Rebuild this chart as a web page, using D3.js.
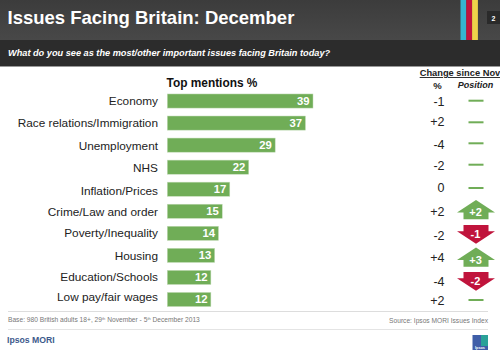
<!DOCTYPE html>
<html><head><meta charset="utf-8">
<script src="https://cdn.jsdelivr.net/npm/d3@7"></script>
<style>html,body{margin:0;padding:0;background:#fff}svg{display:block}text{font-family:"Liberation Sans",Arial,sans-serif}</style>
</head><body><svg id="c" width="500" height="351"></svg>
<script>
const categories=["Economy","Race relations/Immigration","Unemployment","NHS","Inflation/Prices","Crime/Law and order","Poverty/Inequality","Housing","Education/Schools","Low pay/fair wages"];
const values=[39,37,29,22,17,15,14,13,12,12];
const changes=["-1","+2","-4","-2","0","+2","-2","+4","-4","+2"];
const positions=[0,0,0,0,0,2,-1,3,-2,0];
const stripes=["#35b4d0","#c0143c","#efd24a"];

const svg=d3.select("#c");
const x=d3.scaleLinear().domain([0,39]).range([165.5,313]);
const barStart=167.3;
const y=d3.scaleBand().domain(categories).range([90,310.5]).paddingInner(0.36).paddingOuter(0.18);
const cy=c=>y(c)+y.bandwidth()/2;
// the source slide's columns are hand-placed and drift from the bar rows
const labelY=d3.scaleOrdinal(categories,[105,127,149.5,172,194.5,216,236.7,260,281,300.7]);
const changeY=d3.scaleOrdinal(categories,[106,126.2,148.5,170.2,191.5,216.2,239.5,261.5,285.5,305]);
const markY=d3.scaleOrdinal(categories,[100.7,122.3,143.3,164.7,188,211,234.5,258.5,281.5,300]);
const GREEN="#70ad57",RED="#c0143c";

const grad=svg.append("defs").append("linearGradient").attr("id","hd").attr("x1",0).attr("x2",0).attr("y1",0).attr("y2",1);
grad.append("stop").attr("offset",0).attr("stop-color","#3c3c3c");
grad.append("stop").attr("offset",1).attr("stop-color","#484848");

svg.append("rect").attr("width",500).attr("height",40).attr("fill","url(#hd)");
svg.append("rect").attr("y",40).attr("width",500).attr("height",26).attr("fill","#2c2c2c");
svg.append("rect").attr("y",66).attr("width",500).attr("height",1).attr("fill","#999");
svg.selectAll("rect.st").data(stripes).join("rect").attr("class","st")
  .attr("x",(d,i)=>460.5+i*5.8).attr("y",0).attr("width",5.8).attr("height",40).attr("fill",d=>d);
svg.append("rect").attr("x",487).attr("y",11).attr("width",13).attr("height",13).attr("fill","#2a2a2a");
svg.append("text").attr("x",493.5).attr("y",20.5).attr("text-anchor","middle").attr("font-size",7).attr("font-weight","bold").attr("fill","#fff").text("2");
svg.append("text").attr("x",7.5).attr("y",23.5).attr("font-size",18.5).attr("font-weight","bold").attr("fill","#fff").text("Issues Facing Britain: December");
svg.append("text").attr("x",8).attr("y",56).attr("font-size",9.2).attr("font-weight","bold").attr("font-style","italic").attr("fill","#fff").text("What do you see as the most/other important issues facing Britain today?");

svg.append("text").attr("x",166.5).attr("y",87).attr("font-size",11.9).attr("font-weight","bold").attr("fill","#111").text("Top mentions %");
svg.append("text").attr("x",460).attr("y",76).attr("text-anchor","middle").attr("font-size",9.3).attr("font-weight","bold").attr("fill","#222").attr("text-decoration","underline").text("Change since Nov");
svg.append("text").attr("x",437.5).attr("y",88.5).attr("text-anchor","middle").attr("font-size",9.5).attr("font-weight","bold").attr("fill","#222").text("%");
svg.append("text").attr("x",475.5).attr("y",88).attr("text-anchor","middle").attr("font-size",9).attr("font-weight","bold").attr("font-style","italic").attr("fill","#222").text("Position");

const rows=svg.selectAll("g.row").data(categories).join("g").attr("class","row");
rows.append("text").attr("x",158).attr("y",d=>labelY(d)).attr("text-anchor","end").attr("font-size",11.8).attr("fill","#222").text(d=>d);
rows.append("rect").attr("x",barStart).attr("y",d=>y(d)).attr("width",(d,i)=>x(values[i])-barStart).attr("height",y.bandwidth()).attr("fill",GREEN).attr("stroke","#c3dcb8").attr("stroke-width",0.5);
rows.append("text").attr("x",(d,i)=>x(values[i])-3.4).attr("y",d=>cy(d)+4).attr("text-anchor","end").attr("font-size",11.3).attr("font-weight","bold").attr("fill","#fff").text((d,i)=>values[i]);
rows.append("text").attr("x",444.5).attr("y",d=>changeY(d)).attr("text-anchor","end").attr("font-size",12.5).attr("fill","#222").text((d,i)=>changes[i]);

rows.each(function(d,i){
  const g=d3.select(this),p=positions[i],c=markY(d),cx=476;
  if(p===0){g.append("rect").attr("x",cx-7.5).attr("y",c-1).attr("width",15).attr("height",2).attr("fill",GREEN);return;}
  const up=p>0;
  const pts=up
    ?[[0,-11],[19,1.5],[12.5,1.5],[12.5,8.3],[-12.5,8.3],[-12.5,1.5],[-19,1.5]]
    :[[0,9.3],[19,-3.2],[12.5,-3.2],[12.5,-9.5],[-12.5,-9.5],[-12.5,-3.2],[-19,-3.2]];
  g.append("path").attr("d",d3.line()(pts.map(q=>[cx+q[0],c+q[1]]))+"Z").attr("fill",up?GREEN:RED);
  g.append("text").attr("x",cx-0.5).attr("y",c+(up?5:3)).attr("text-anchor","middle").attr("font-size",11).attr("font-weight","bold").attr("fill","#fff").text((p>0?"+":"")+p);
});

svg.append("rect").attr("x",8).attr("y",311).attr("width",480).attr("height",1).attr("fill","#ddd");
svg.append("rect").attr("x",8).attr("y",329).attr("width",480).attr("height",1).attr("fill","#e4e4e4");
const base=svg.append("text").attr("x",8).attr("y",322).attr("font-size",6.65).attr("fill","#777");
base.append("tspan").text("Base: 980 British adults 18+, 29");
base.append("tspan").attr("font-size",4).attr("dy",-2).text("th");
base.append("tspan").attr("dy",2).text(" November  - 5");
base.append("tspan").attr("font-size",4).attr("dy",-2).text("th");
base.append("tspan").attr("dy",2).text(" December 2013");
svg.append("text").attr("x",488).attr("y",323).attr("text-anchor","end").attr("font-size",6.65).attr("fill","#777").text("Source: Ipsos MORI  Issues Index");
svg.append("text").attr("x",7).attr("y",342.5).attr("font-size",8.7).attr("font-weight","bold").attr("fill","#3d5a8c").text("Ipsos MORI");
svg.append("rect").attr("x",472.5).attr("y",335).attr("width",15.5).attr("height",15).attr("fill","#3f5ea8");
svg.append("rect").attr("x",481).attr("y",335).attr("width",7).attr("height",11).attr("fill","#2aa198");
svg.append("text").attr("x",480).attr("y",349).attr("text-anchor","middle").attr("font-size",3.8).attr("font-weight","bold").attr("fill","#fff").text("Ipsos");
</script></body></html>
